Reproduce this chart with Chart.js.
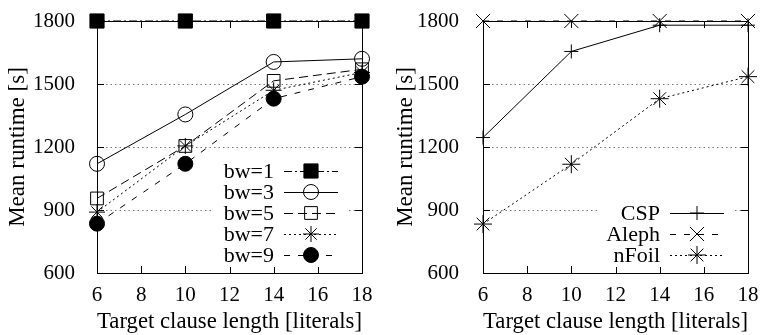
<!DOCTYPE html>
<html>
<head>
<meta charset="utf-8">
<script src="https://cdn.jsdelivr.net/npm/chart.js@4.4.0/dist/chart.umd.min.js"></script>
<style>
body { margin: 0; background: #fff; }
.wrap { display: flex; width: 762px; height: 335px; }
canvas { display: block; }
</style>
</head>
<body>
<div class="wrap">
  <canvas id="leftChart" width="381" height="335"></canvas>
  <canvas id="rightChart" width="381" height="335"></canvas>
</div>
<script>
// 數據
const xValues = [6, 10, 14, 18];
const xTicks = [6, 8, 10, 12, 14, 16, 18];
const yTicks = [600, 900, 1200, 1500, 1800];

const leftLabels = ['bw=1', 'bw=3', 'bw=5', 'bw=7', 'bw=9'];
const bw1 = [1800, 1800, 1800, 1800];
const bw3 = [1120, 1355, 1605, 1620];
const bw5 = [955, 1205, 1515, 1570];
const bw7 = [890, 1205, 1470, 1555];
const bw9 = [835, 1120, 1430, 1535];

const rightLabels = ['CSP', 'Aleph', 'nFoil'];
const csp = [1245, 1655, 1780, 1780];
const aleph = [1800, 1800, 1800, 1800];
const nfoil = [833, 1118, 1430, 1535];

const xTitle = 'Target clause length [literals]';
const yTitle = 'Mean runtime [s]';

const FONT = "'Liberation Serif', 'Times New Roman', serif";
Chart.defaults.font.family = FONT;
Chart.defaults.font.size = 21;
Chart.defaults.color = '#000';

function makeSet(label, values, style) {
    return {
        label: label,
        data: values.map((v, i) => ({ x: xValues[i], y: v })),
        borderColor: '#000', borderWidth: 1, borderDash: style.dash,
        backgroundColor: style.fill, pointStyle: style.shape, pointRadius: style.r,
        pointBorderColor: '#000', pointBackgroundColor: style.fill, pointBorderWidth: 1,
        tension: 0, clip: false
    };
}

// 框線、虛線網格、向內刻度
const framePlugin = {
    id: 'frame',
    beforeDatasetsDraw(chart) {
        const ctx = chart.ctx;
        const { left, right, top, bottom } = chart.chartArea;
        const xs = chart.scales.x, ys = chart.scales.y;
        ctx.save();
        ctx.lineWidth = 1;
        ctx.strokeStyle = '#777';
        ctx.setLineDash([1.5, 3]);
        yTicks.slice(1, -1).forEach(v => {
            const y = Math.round(ys.getPixelForValue(v)) + 0.5;
            ctx.beginPath(); ctx.moveTo(left, y); ctx.lineTo(right, y); ctx.stroke();
        });
        ctx.setLineDash([]);
        ctx.strokeStyle = '#000';
        ctx.beginPath();
        xTicks.forEach(v => {
            const x = Math.round(xs.getPixelForValue(v)) + 0.5;
            ctx.moveTo(x, bottom); ctx.lineTo(x, bottom - 7);
            ctx.moveTo(x, top); ctx.lineTo(x, top + 7);
        });
        yTicks.forEach(v => {
            const y = Math.round(ys.getPixelForValue(v)) + 0.5;
            ctx.moveTo(left, y); ctx.lineTo(left + 7, y);
            ctx.moveTo(right, y); ctx.lineTo(right - 7, y);
        });
        ctx.stroke();
        ctx.strokeRect(Math.round(left) + 0.5, Math.round(top) + 0.5,
            Math.round(right - left), Math.round(bottom - top));
        ctx.restore();
    }
};

// 圖內圖例 (文字在左, 線樣本在右)
const keyPlugin = {
    id: 'key',
    afterDatasetsDraw(chart) {
        const ctx = chart.ctx;
        const { right, bottom } = chart.chartArea;
        const sets = chart.data.datasets;
        const n = sets.length;
        const rowH = 21;
        ctx.save();
        ctx.fillStyle = '#fff';
        ctx.fillRect(right - 150, bottom - 18 - (n - 1) * rowH - 12, 137, (n - 1) * rowH + 24);
        sets.forEach((ds, i) => {
            const y = bottom - 18 - (n - 1 - i) * rowH;
            ctx.fillStyle = '#000';
            ctx.font = '22px ' + FONT;
            ctx.textAlign = 'right';
            ctx.textBaseline = 'middle';
            ctx.fillText(ds.label, right - 88, y + 1);
            ctx.strokeStyle = '#000';
            ctx.lineWidth = 1;
            ctx.setLineDash(ds.borderDash || []);
            ctx.beginPath();
            ctx.moveTo(right - 78, Math.round(y) + 0.5);
            ctx.lineTo(right - 24, Math.round(y) + 0.5);
            ctx.stroke();
            ctx.setLineDash([]);
            ctx.fillStyle = ds.pointBackgroundColor;
            Chart.helpers.drawPoint(ctx, {
                pointStyle: ds.pointStyle, radius: ds.pointRadius, rotation: 0, borderWidth: 1
            }, right - 51, y);
        });
        ctx.restore();
    }
};

function renderChart(id, datasets, yWidth, titlePad, rightPad, tickPad) {
    const ctx = document.getElementById(id).getContext('2d');
    return new Chart(ctx, {
        type: 'line',
        data: { datasets: datasets },
        plugins: [framePlugin, keyPlugin],
        options: {
            responsive: false,
            animation: false,
            layout: { padding: { top: 21, right: rightPad, left: 0, bottom: 0 } },
            plugins: { legend: { display: false }, tooltip: { enabled: false } },
            scales: {
                x: {
                    type: 'linear', min: 6, max: 18,
                    grid: { display: false }, border: { display: false },
                    ticks: { stepSize: 2, autoSkip: false, padding: 2, maxRotation: 0, callback: v => String(v) },
                    title: { display: true, text: xTitle, font: { size: 23.5, lineHeight: 1 }, padding: { top: 0, bottom: 1 } },
                    afterFit(scale) {
                        scale.height = 62;
                        scale.paddingLeft = 0;
                        scale.paddingRight = 0;
                    }
                },
                y: {
                    type: 'linear', min: 600, max: 1800,
                    grid: { display: false }, border: { display: false },
                    ticks: { stepSize: 300, autoSkip: false, padding: tickPad, callback: v => String(v) },
                    title: { display: true, text: yTitle, font: { size: 23, lineHeight: 1 }, padding: { top: titlePad, bottom: 0 } },
                    afterFit(scale) {
                        scale.width = yWidth;
                        scale.paddingTop = 0;
                        scale.paddingBottom = 0;
                    }
                }
            }
        }
    });
}

const none = 'rgba(0,0,0,0)';
renderChart('leftChart', [
    makeSet(leftLabels[0], bw1, { shape: 'rect', r: 10, fill: '#000', dash: [8, 3, 2, 3] }),
    makeSet(leftLabels[1], bw3, { shape: 'circle', r: 7.5, fill: none, dash: [] }),
    makeSet(leftLabels[2], bw5, { shape: 'rect', r: 9, fill: none, dash: [9, 5] }),
    makeSet(leftLabels[3], bw7, { shape: 'star', r: 8, fill: none, dash: [2, 3] }),
    makeSet(leftLabels[4], bw9, { shape: 'circle', r: 7.5, fill: '#000', dash: [6, 8] })
], 97, 6, 19, 14);

renderChart('rightChart', [
    makeSet(rightLabels[0], csp, { shape: 'cross', r: 7, fill: none, dash: [] }),
    makeSet(rightLabels[1], aleph, { shape: 'crossRot', r: 10, fill: none, dash: [6, 8] }),
    makeSet(rightLabels[2], nfoil, { shape: 'star', r: 9, fill: none, dash: [2, 3] })
], 102, 13, 14, 16);
</script>
</body>
</html>
